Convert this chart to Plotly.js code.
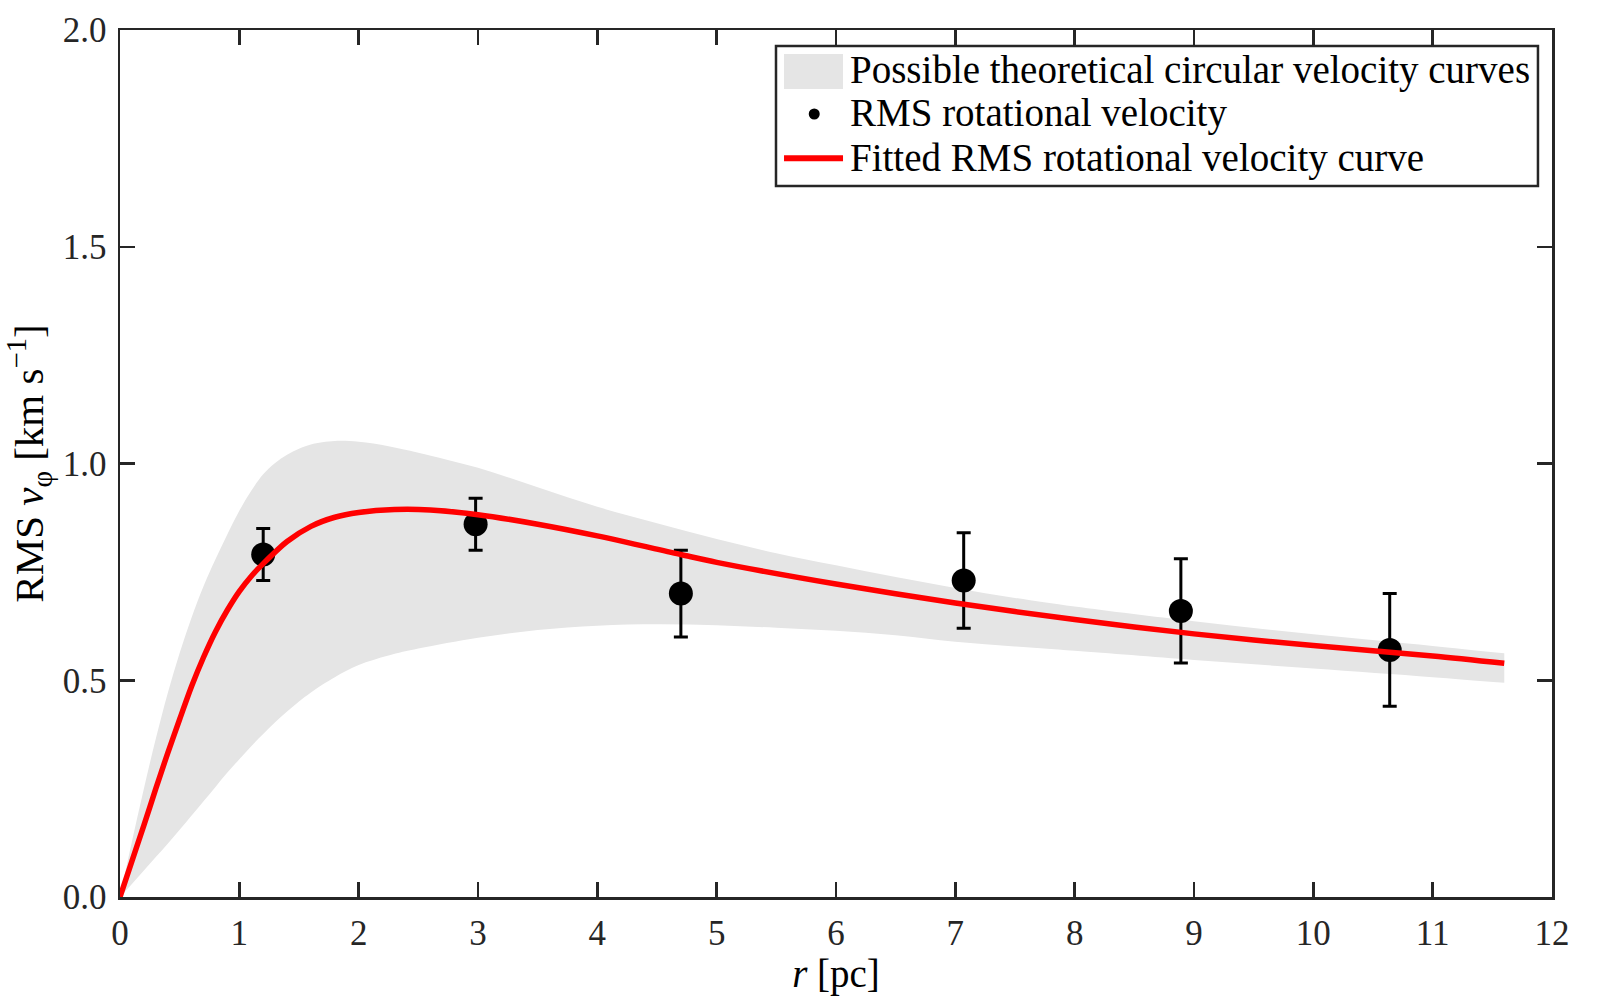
<!DOCTYPE html>
<html>
<head>
<meta charset="utf-8">
<script src="https://cdn.plot.ly/plotly-3.0.1.min.js"></script>
<style>
  html, body { margin: 0; padding: 0; background: #ffffff; }
  #chart { width: 1600px; height: 1000px; }
</style>
</head>
<body>
<div id="chart"></div>
<script>
// ---------- data ----------
// envelope of possible circular velocity curves
const bandR = [0, 0.1, 0.2, 0.3, 0.4, 0.5, 0.6, 0.7, 0.8, 0.9, 1.0, 1.1, 1.2, 1.3, 1.4, 1.5, 1.6, 1.8, 2.0, 2.25, 2.5, 3.0, 3.5, 4.0, 4.5, 5.0, 5.5, 6.0, 6.5, 7.0, 7.5, 8.0, 9.0, 10.0, 11.0, 11.6];
const bandUpper = [0, 0.128, 0.25, 0.365, 0.47, 0.563, 0.645, 0.717, 0.779, 0.837, 0.891, 0.937, 0.975, 1.001, 1.02, 1.034, 1.044, 1.052, 1.05, 1.04, 1.025, 0.99, 0.945, 0.90, 0.862, 0.826, 0.793, 0.765, 0.738, 0.713, 0.69, 0.67, 0.636, 0.606, 0.579, 0.562];
const bandLower = [0, 0.03, 0.061, 0.092, 0.123, 0.155, 0.188, 0.221, 0.254, 0.287, 0.318, 0.348, 0.376, 0.403, 0.428, 0.451, 0.472, 0.507, 0.535, 0.557, 0.573, 0.598, 0.616, 0.626, 0.629, 0.627, 0.621, 0.614, 0.604, 0.589, 0.578, 0.568, 0.547, 0.527, 0.507, 0.494];

// measured RMS rotational velocity
const ptsR = [1.2, 2.98, 4.70, 7.07, 8.89, 10.64];
const ptsV = [0.79, 0.86, 0.70, 0.73, 0.66, 0.57];
const ptsErr = [0.06, 0.06, 0.10, 0.11, 0.12, 0.13];

// fitted curve
const fitR = [0, 0.1, 0.2, 0.3, 0.4, 0.5, 0.6, 0.7, 0.8, 0.9, 1.0, 1.1, 1.2, 1.4, 1.6, 1.8, 2.0, 2.3, 2.6, 3.0, 3.5, 4.0, 4.7, 5.0, 6.0, 7.0, 8.0, 9.0, 10.0, 11.0, 11.6];
const fitV = [0, 0.083, 0.165, 0.25, 0.332, 0.41, 0.486, 0.553, 0.612, 0.662, 0.705, 0.74, 0.769, 0.82, 0.855, 0.876, 0.887, 0.894, 0.893, 0.882, 0.86, 0.833, 0.79, 0.772, 0.722, 0.678, 0.64, 0.607, 0.58, 0.556, 0.539];

const legendLabels = [
    "Possible theoretical circular velocity curves",
    "RMS rotational velocity",
    "Fitted RMS rotational velocity curve"
];

const FONT = "Liberation Serif, Times New Roman, serif";
const INK = "#262626";
const BAND = "#e5e5e5";
const RED = "#ff0000";

const lowerEdge = {
    type: "scatter",
    mode: "lines",
    x: bandR,
    y: bandLower,
    line: { width: 0, color: BAND, shape: "spline", smoothing: 1 },
    hoverinfo: "skip",
    showlegend: false
};

const upperEdge = {
    type: "scatter",
    mode: "lines",
    x: bandR,
    y: bandUpper,
    fill: "tonexty",
    fillcolor: BAND,
    line: { width: 0, color: BAND, shape: "spline", smoothing: 1 },
    name: legendLabels[0],
    hoverinfo: "skip",
    showlegend: false
};

const points = {
    type: "scatter",
    mode: "markers",
    x: ptsR,
    y: ptsV,
    marker: { color: "#000000", size: 24 },
    error_y: { type: "data", array: ptsErr, visible: true, color: "#000000", thickness: 3, width: 7 },
    name: legendLabels[1],
    showlegend: false
};

const fit = {
    type: "scatter",
    mode: "lines",
    x: fitR,
    y: fitV,
    line: { color: RED, width: 5.5, shape: "spline", smoothing: 0.8 },
    name: legendLabels[2],
    showlegend: false
};

// ---------- hand-made legend box (matches the original's spacing) ----------
const legX0 = 0.4581, legX1 = 0.9902, legY0 = 0.8201, legY1 = 0.9815;
const rowY = [0.9535, 0.9040, 0.852];
const symX0 = 0.4637, symX1 = 0.5049, textX = 0.5085;

const shapes = [
    { type: "rect", xref: "paper", yref: "paper", x0: legX0, x1: legX1, y0: legY0, y1: legY1,
      line: { color: INK, width: 2.5 }, fillcolor: "#ffffff", layer: "above" },
    { type: "rect", xref: "paper", yref: "paper", x0: symX0, x1: symX1, y0: 0.9319, y1: 0.9723,
      line: { width: 0 }, fillcolor: BAND, layer: "above" },
    { type: "circle", xref: "paper", yref: "paper", xsizemode: "pixel", ysizemode: "pixel",
      xanchor: (symX0 + symX1) / 2 + 0.0005, yanchor: 0.9031, x0: -5.5, x1: 5.5, y0: -5.5, y1: 5.5,
      line: { width: 0 }, fillcolor: "#000000", layer: "above" },
    { type: "line", xref: "paper", yref: "paper", x0: symX0, x1: symX1, y0: rowY[2], y1: rowY[2],
      line: { color: RED, width: 6 }, layer: "above" }
];

const annotations = legendLabels.map((t, i) => ({
    text: t,
    xref: "paper",
    yref: "paper",
    x: textX,
    y: rowY[i],
    xanchor: "left",
    yanchor: "middle",
    showarrow: false,
    font: { family: FONT, size: 39, color: "#000000" }
}));

const axisCommon = {
    showgrid: false,
    zeroline: false,
    showline: true,
    linecolor: INK,
    linewidth: 2.5,
    mirror: "allticks",
    ticks: "inside",
    ticklen: 15,
    tickwidth: 2.5,
    tickcolor: INK,
    tickfont: { family: FONT, size: 35, color: INK }
};

const layout = {
    width: 1600,
    height: 1000,
    margin: { l: 120, r: 48, t: 30, b: 103 },
    paper_bgcolor: "#ffffff",
    plot_bgcolor: "#ffffff",
    font: { family: FONT, color: INK },
    showlegend: false,
    shapes: shapes,
    annotations: annotations,
    xaxis: Object.assign({}, axisCommon, {
        range: [0, 12],
        dtick: 1,
        tick0: 0,
        ticklabelstandoff: 3,
        title: { text: "<i>r</i> [pc]", font: { family: FONT, size: 39, color: "#000000" }, standoff: 4 }
    }),
    yaxis: Object.assign({}, axisCommon, {
        range: [0, 2],
        dtick: 0.5,
        tick0: 0,
        tickformat: ".1f",
        ticklabelstandoff: 4,
        title: { text: "RMS <i>v</i><sub>φ</sub> [km s<sup>−1</sup>]", font: { family: FONT, size: 41, color: "#000000" }, standoff: 16 }
    })
};

Plotly.newPlot("chart", [lowerEdge, upperEdge, points, fit], layout, { displayModeBar: false, staticPlot: true });
</script>
</body>
</html>
